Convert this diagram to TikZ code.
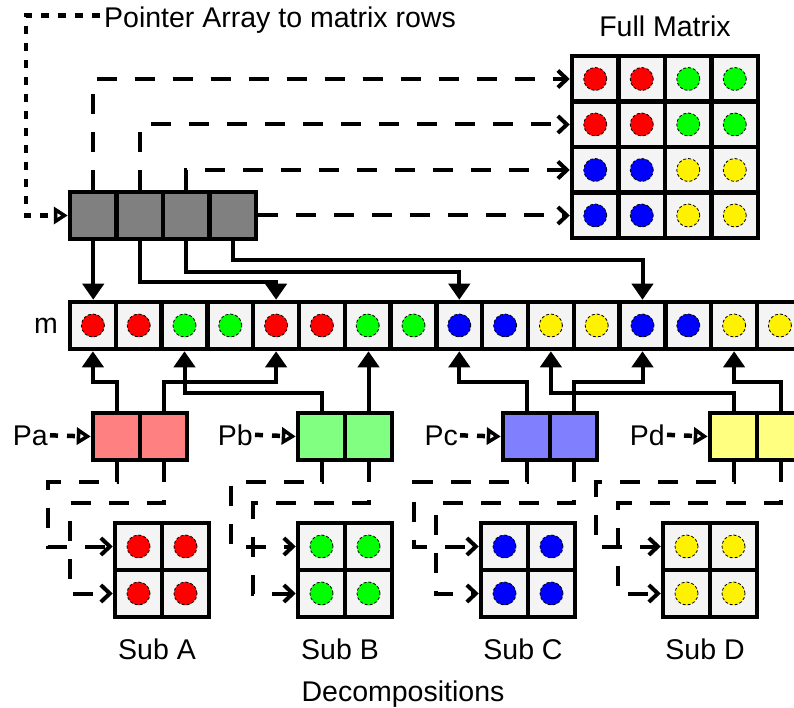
\documentclass[tikz,border=0pt]{standalone}
\usepackage{fontspec}
\setmainfont{Liberation Sans}
\usetikzlibrary{arrows.meta}
\definecolor{cellbg}{HTML}{F4F4F4}
\definecolor{ptrgray}{HTML}{808080}
\definecolor{pafill}{HTML}{FF8080}
\definecolor{pbfill}{HTML}{80FF80}
\definecolor{pcfill}{HTML}{8080FF}
\definecolor{pdfill}{HTML}{FFFF80}
\tikzset{
  cellbox/.style={draw=black, line width=4.5pt, fill=cellbg, inner sep=0pt},
  dot/.style={circle, draw=black, line width=0.8pt, densely dashed, minimum size=23pt, inner sep=0pt},
  txt/.style={font=\fontsize{28.5}{34}\selectfont, inner sep=0pt},
  solidarrow/.style={line width=4pt, -{Triangle[length=16pt,width=21pt]}},
  dasharrow/.style={line width=4pt, dash pattern=on 20pt off 18pt, -{Straight Barb[length=9pt,width=17pt]}},
  dotarrow/.style={line width=4.5pt, dash pattern=on 8pt off 9pt, -{Triangle[open,length=14pt,width=17pt]}}
}
\begin{document}
\begin{tikzpicture}[x=1pt,y=-1pt]
\useasboundingbox (0,0) rectangle (794,708);
\clip (0,0) rectangle (794,708);

% titles
\node[txt, anchor=base west] (title) at (104,27.3) {Pointer Array to matrix rows};
\node[txt, anchor=base] (fmtitle) at (665,37) {Full Matrix};
\node[txt, anchor=base] (mlabel) at (46,333) {m};
\node[txt, anchor=base] (decomp) at (403,701.5) {Decompositions};

% pointer array
\foreach \i in {1,...,4}
  \node[cellbox, fill=ptrgray, minimum width=46.5pt, minimum height=47pt] (ptr\i) at ({70+46.5*(\i-0.5)},215.5) {};

% full matrix
\foreach \r/\c/\col in {1/1/red,1/2/red,1/3/green,1/4/green,
                        2/1/red,2/2/red,2/3/green,2/4/green,
                        3/1/blue,3/2/blue,3/3/yellow,3/4/yellow,
                        4/1/blue,4/2/blue,4/3/yellow,4/4/yellow} {
  \node[cellbox, minimum width=46.5pt, minimum height=45.5pt] (fm\r\c) at ({572+46.5*(\c-0.5)},{215.5-45.5*(4-\r)}) {};
  \node[dot, fill=\col] at (fm\r\c) {};
}

% array m
\foreach \col [count=\i] in {red,red,green,green,red,red,green,green,blue,blue,yellow,yellow,blue,blue,yellow,yellow} {
  \node[cellbox, minimum width=45.8pt, minimum height=47pt] (m\i) at ({70+45.8*(\i-0.5)},325.5) {};
  \node[dot, fill=\col] at (m\i) {};
}

% pointer boxes Pa..Pd
\foreach \n/\x/\col/\lab in {a/93/pafill/Pa, b/298/pbfill/Pb, c/503/pcfill/Pc, d/710/pdfill/Pd} {
  \node[cellbox, fill=\col, minimum width=47pt, minimum height=47pt] (P\n1) at ({\x+23.5},436.5) {};
  \node[cellbox, fill=\col, minimum width=47pt, minimum height=47pt] (P\n2) at ({\x+70.5},436.5) {};
  \node[txt, anchor=base east] (lab\n) at ({\x-45},445) {\lab};
  \draw[dotarrow] ([xshift=2pt]lab\n.east) -- (P\n1.west);
}

% sub matrices
\foreach \n/\x/\col in {A/115/red, B/298/green, C/481/blue, D/663/yellow} {
  \foreach \r in {1,2} \foreach \c in {1,2} {
    \node[cellbox, minimum width=47pt, minimum height=47pt] (s\n\r\c) at ({\x+47*(\c-0.5)},{523+47*(\r-0.5)}) {};
    \node[dot, fill=\col] at (s\n\r\c) {};
  }
  \node[txt, anchor=base] (sub\n) at ({\x+42},659) {Sub \n};
}

% pointer array to full matrix rows
\draw[dasharrow] (ptr1.north) |- (fm11.west);
\draw[dasharrow] (ptr2.north) |- (fm21.west);
\draw[dasharrow] (ptr3.north) |- (fm31.west);
\draw[dasharrow] (ptr4.east) -- (fm41.west);
\draw[dotarrow] ([shift={(-4,-12)}]title.base west) -| ([xshift=-42pt]ptr1.west) -- (ptr1.west);

% pointer array to m
\draw[solidarrow] (ptr1.south) -- (ptr1.south |- m1.north);
\draw[solidarrow] (ptr2.south) -- ++(0,41) -| (m5.north);
\draw[solidarrow] (ptr3.south) -- ++(0,31) -| (m9.north);
\draw[solidarrow] (ptr4.south) -- ++(0,19) -| (m13.north);

% partition pointers to m
\draw[solidarrow] (Pa1.north) -- ++(0,-29) -| (m1.south);
\draw[solidarrow] (Pa2.north) -- ++(0,-29) -| (m5.south);
\draw[solidarrow] (Pb1.north) -- ++(0,-18) -| (m3.south);
\draw[solidarrow] (Pb2.north) -- (Pb2.north |- m7.south);
\draw[solidarrow] (Pc1.north) -- ++(0,-29) -| (m9.south);
\draw[solidarrow] (Pc2.north) -- ++(0,-29) -| (m13.south);
\draw[solidarrow] (Pd1.north) -- ++(0,-18) -| (m11.south);
\draw[solidarrow] (Pd2.north) -- ++(0,-29) -| (m15.south);

% partition pointers to sub matrix rows
\foreach \p/\s in {a/A, b/B, c/C, d/D} {
  \draw[dasharrow] (P\p1.south) -- ++(0,20) -| ([xshift=-65pt]s\s11.west) -- (s\s11.west);
  \draw[dasharrow] (P\p2.south) -- ++(0,41) -| ([xshift=-43pt]s\s21.west) -- (s\s21.west);
}
\end{tikzpicture}
\end{document}
